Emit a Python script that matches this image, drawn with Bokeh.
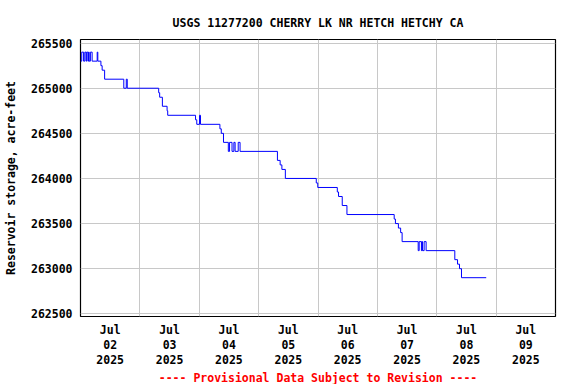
from bokeh.plotting import figure
from bokeh.models import FixedTicker, Title, Range1d
from bokeh.embed import file_html
from bokeh.resources import INLINE

# Change points of the step series: hours after Jul 02 2025 00:00, storage in acre-feet
hours = [0.0, 0.5, 1.25, 1.75, 2.25, 2.5, 3.0, 3.25, 3.5, 4.0,
         4.7, 6.75, 7.0, 8.25, 8.75, 9.75, 17.5, 18.5, 18.9, 31.6,
         32.0, 33.1, 35.0, 35.25, 46.5, 47.0, 48.1, 48.5, 56.35, 56.9,
         57.8, 59.75, 60.25, 61.25, 62.0, 62.5, 63.75, 64.5, 79.6, 80.7,
         81.4, 82.8, 95.3, 95.9, 103.8, 104.3, 105.8, 107.7, 126.8, 127.3,
         128.5, 129.4, 130.0, 136.5, 136.9, 137.8, 138.0, 138.25, 138.9, 139.7,
         151.3, 152.4, 153.2, 154.0, 164.0]
storage = [265300, 265400, 265300, 265400, 265300, 265400, 265300, 265400, 265300, 265400,
           265300, 265400, 265300, 265250, 265200, 265100, 265000, 265100, 265000, 264950,
           264900, 264800, 264750, 264700, 264650, 264600, 264700, 264600, 264550, 264500,
           264400, 264300, 264400, 264300, 264400, 264300, 264400, 264300, 264200, 264150,
           264100, 264000, 263950, 263900, 263850, 263800, 263700, 263600, 263550, 263500,
           263450, 263400, 263300, 263200, 263300, 263200, 263300, 263200, 263300, 263200,
           263100, 263050, 263000, 262900, 262900]

day_labels = ["Jul\n02\n2025", "Jul\n03\n2025", "Jul\n04\n2025", "Jul\n05\n2025",
              "Jul\n06\n2025", "Jul\n07\n2025", "Jul\n08\n2025", "Jul\n09\n2025"]
y_ticks = [262500, 263000, 263500, 264000, 264500, 265000, 265500]

title_text = "USGS 11277200 CHERRY LK NR HETCH HETCHY CA"
footer_text = "---- Provisional Data Subject to Revision ----"
y_label = "Reservoir storage, acre-feet"

FONT = "DejaVu Sans Mono"
FS = "11.5px"

days = [h / 24.0 for h in hours]

p = figure(width=576, height=384, output_backend="svg", toolbar_location=None,
           x_range=Range1d(0, 8), y_range=Range1d(262470, 265540),
           min_border_left=79, min_border_right=21, min_border_top=39, min_border_bottom=68)
p.background_fill_color = "white"
p.border_fill_color = "white"
p.outline_line_color = "black"
p.outline_line_width = 1.2

p.step(days, storage, mode="after", line_color="#0000ff", line_width=1)

# title
t = Title(text=title_text, align="center", text_font=FONT, text_font_size=FS,
          text_font_style="bold", text_color="black", standoff=19)
p.add_layout(t, "above")
p.title.visible = False

# footer
f = Title(text=footer_text, align="center", text_font=FONT, text_font_size=FS,
          text_font_style="bold", text_color="#ff0000", standoff=-4)
p.add_layout(f, "below")

# x axis: labels at noon of each day, grid at midnights
tick_pos = [i + 0.5 for i in range(len(day_labels))]
p.xaxis.ticker = FixedTicker(ticks=tick_pos)
p.xaxis.major_label_overrides = {tp: lab for tp, lab in zip(tick_pos, day_labels)}
p.xgrid.ticker = FixedTicker(ticks=list(range(1, len(day_labels))))

p.yaxis.ticker = FixedTicker(ticks=y_ticks)
p.ygrid.ticker = FixedTicker(ticks=y_ticks)
p.yaxis.formatter.use_scientific = False
p.yaxis.axis_label = y_label

for ax in (p.xaxis[0], p.yaxis[0]):
    ax.axis_line_color = None
    ax.major_tick_line_color = None
    ax.minor_tick_line_color = None
    ax.major_tick_out = 0
    ax.major_tick_in = 0
    ax.minor_tick_out = 0
    ax.minor_tick_in = 0
    ax.major_label_text_font = FONT
    ax.major_label_text_font_size = FS
    ax.major_label_text_font_style = "bold"
    ax.major_label_text_color = "black"
    ax.major_label_standoff = 8

p.xaxis.major_label_standoff = 6
p.xaxis.major_label_text_line_height = 1.1
p.yaxis.axis_label_text_font = FONT
p.yaxis.axis_label_text_font_size = FS
p.yaxis.axis_label_text_font_style = "bold"
p.yaxis.axis_label_text_color = "black"
p.yaxis.axis_label_standoff = 10

for g in (p.xgrid[0], p.ygrid[0]):
    g.grid_line_color = "#c8c8c8"
    g.grid_line_width = 1

open("out.html", "w").write(file_html(p, INLINE))
